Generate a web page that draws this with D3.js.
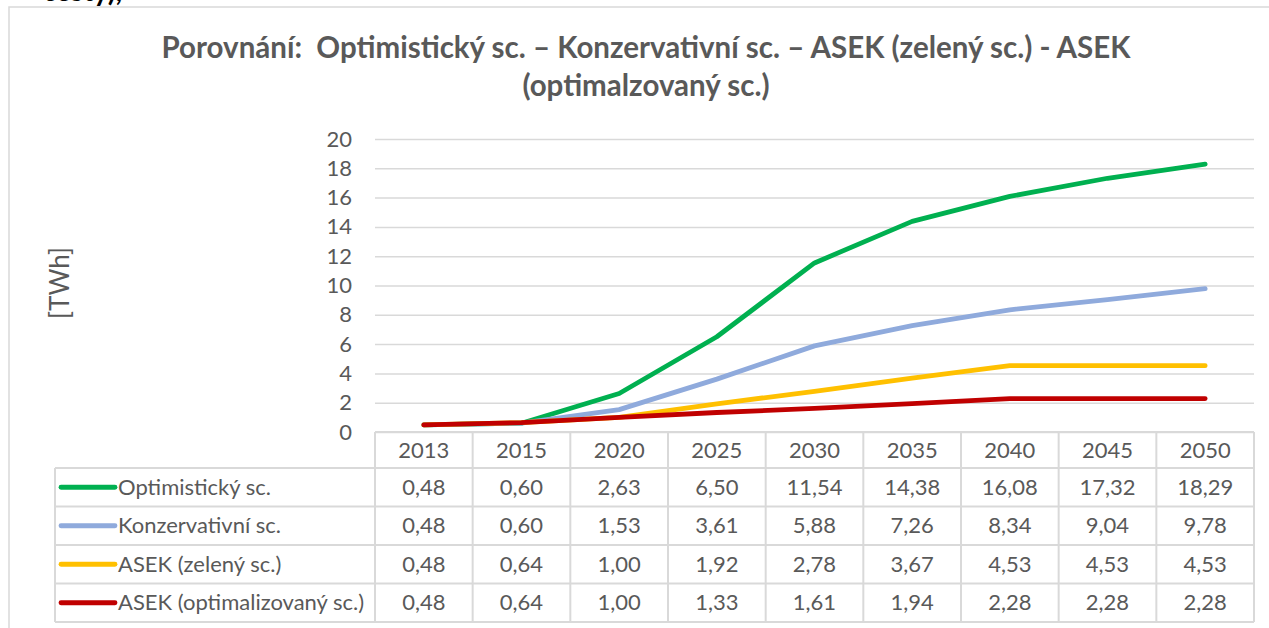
<!DOCTYPE html>
<html>
<head>
<meta charset="utf-8">
<script src="https://cdn.jsdelivr.net/npm/d3@7"></script>
<style>
  html, body { margin: 0; padding: 0; background: #fff; }
  svg { display: block; }
  text { font-family: Lato, "Open Sans", sans-serif; }
</style>
</head>
<body>
<svg id="chart" width="1269" height="628"></svg>
<script>
// ---- data ----
const years = ["2013", "2015", "2020", "2025", "2030", "2035", "2040", "2045", "2050"];
const seriesNames = ["Optimistický sc.", "Konzervativní sc.", "ASEK (zelený sc.)", "ASEK (optimalizovaný sc.)"];
const optimisticValues = [0.48, 0.60, 2.63, 6.50, 11.54, 14.38, 16.08, 17.32, 18.29];
const conservativeValues = [0.48, 0.60, 1.53, 3.61, 5.88, 7.26, 8.34, 9.04, 9.78];
const asekGreenValues = [0.48, 0.64, 1.00, 1.92, 2.78, 3.67, 4.53, 4.53, 4.53];
const asekOptimizedValues = [0.48, 0.64, 1.00, 1.33, 1.61, 1.94, 2.28, 2.28, 2.28];
const yTicks = [0, 2, 4, 6, 8, 10, 12, 14, 16, 18, 20];
const titleLines = ["Porovnání:  Optimistický sc. – Konzervativní sc. – ASEK (zelený sc.) - ASEK", "(optimalzovaný sc.)"];
const yAxisTitle = "[TWh]";
const seriesColors = ["#00B050", "#8FAADC", "#FFC000", "#C00000"];

const seriesValues = [optimisticValues, conservativeValues, asekGreenValues, asekOptimizedValues];

// ---- layout ----
const svg = d3.select("#chart");
const plotLeft = 375, plotRight = 1254, plotTop = 139, plotBottom = 432;
const legendLeft = 55;
const headerBottom = 468, rowH = 38.5;
const textColor = "#595959", gridColor = "#d9d9d9";
const bodySize = 22;

const x = d3.scaleBand().domain(years).range([plotLeft, plotRight]);
const y = d3.scaleLinear().domain([0, 20]).range([plotBottom, plotTop]);
const cs = d3.formatLocale({decimal: ",", thousands: " ", grouping: [3], currency: ["", ""]});
const fmt = cs.format(".2f");

// partial text of document above the chart (cut off at the top edge, as in the reference)
svg.append("text").attr("x", 122).attr("y", 1).attr("text-anchor", "end")
  .attr("font-size", 28).attr("font-weight", 700).attr("fill", "#000")
  .text("cesty),");

// chart area border
svg.append("rect").attr("x", 9).attr("y", 7).attr("width", 1300).attr("height", 700)
  .attr("fill", "#fff").attr("stroke", gridColor).attr("stroke-width", 1.5);

// title
svg.selectAll("text.title").data(titleLines).join("text")
  .attr("class", "title")
  .attr("x", 646).attr("y", (d, i) => 58 + i * 38)
  .attr("text-anchor", "middle")
  .style("white-space", "pre")
  .attr("font-size", 29.5).attr("font-weight", 700).attr("fill", textColor)
  .text(d => d);

// y gridlines and labels
const yAxis = d3.axisLeft(y).tickValues(yTicks).tickSize(-(plotRight - plotLeft)).tickPadding(23).tickFormat(d3.format("d"));
const gy = svg.append("g").attr("transform", `translate(${plotLeft},0)`).call(yAxis);
gy.select(".domain").remove();
gy.selectAll(".tick line").attr("stroke", gridColor).attr("stroke-width", 1.5);
gy.selectAll(".tick text").attr("font-size", bodySize).attr("fill", textColor)
  .attr("font-family", "Lato, 'Open Sans', sans-serif");

// y axis title
svg.append("text").attr("transform", "translate(60,283) rotate(-90)")
  .attr("text-anchor", "middle").attr("dy", "0.35em").attr("font-size", 26).attr("fill", textColor)
  .attr("font-weight", 400)
  .text(yAxisTitle);

// lines
const line = d3.line().x((d, i) => x(years[i]) + x.bandwidth() / 2).y(d => y(d));
svg.append("g").selectAll("path").data(seriesValues).join("path")
  .attr("d", d => line(d))
  .attr("fill", "none")
  .attr("stroke", (d, i) => seriesColors[i])
  .attr("stroke-width", 4.8)
  .attr("stroke-linecap", "round")
  .attr("stroke-linejoin", "round");

// data table
const tbl = svg.append("g");
const rowTop = i => headerBottom + i * rowH;
const tableBottom = rowTop(seriesNames.length);
tbl.append("line").attr("x1", plotLeft).attr("x2", plotRight).attr("y1", plotBottom).attr("y2", plotBottom);
for (let i = 0; i <= seriesNames.length; i++) {
  tbl.append("line").attr("x1", legendLeft).attr("x2", plotRight)
    .attr("y1", rowTop(i)).attr("y2", rowTop(i));
}
tbl.append("line").attr("x1", legendLeft).attr("x2", legendLeft).attr("y1", headerBottom).attr("y2", tableBottom);
years.forEach(yr => {
  tbl.append("line").attr("x1", x(yr)).attr("x2", x(yr)).attr("y1", plotBottom).attr("y2", tableBottom);
});
tbl.append("line").attr("x1", plotRight).attr("x2", plotRight).attr("y1", plotBottom).attr("y2", tableBottom);
tbl.selectAll("line").attr("stroke", gridColor).attr("stroke-width", 2);

// header labels
tbl.selectAll("text.yr").data(years).join("text").attr("class", "yr")
  .attr("x", d => x(d) + x.bandwidth() / 2).attr("y", (plotBottom + headerBottom) / 2)
  .attr("dy", "0.35em").attr("text-anchor", "middle")
  .attr("font-size", bodySize).attr("fill", textColor).text(d => d);

// rows
seriesNames.forEach((name, i) => {
  const cy = rowTop(i) + rowH / 2;
  tbl.append("line").attr("x1", 61).attr("x2", 115).attr("y1", cy).attr("y2", cy)
    .attr("stroke", seriesColors[i]).attr("stroke-width", 4.8).attr("stroke-linecap", "round");
  tbl.append("text").attr("x", 118).attr("y", cy).attr("dy", "0.35em")
    .attr("font-size", bodySize).attr("fill", textColor).text(name);
  tbl.selectAll(null).data(seriesValues[i]).join("text")
    .attr("x", (d, j) => x(years[j]) + x.bandwidth() / 2).attr("y", cy).attr("dy", "0.35em")
    .attr("text-anchor", "middle").attr("font-size", bodySize).attr("fill", textColor)
    .text(d => fmt(d));
});
</script>
</body>
</html>
